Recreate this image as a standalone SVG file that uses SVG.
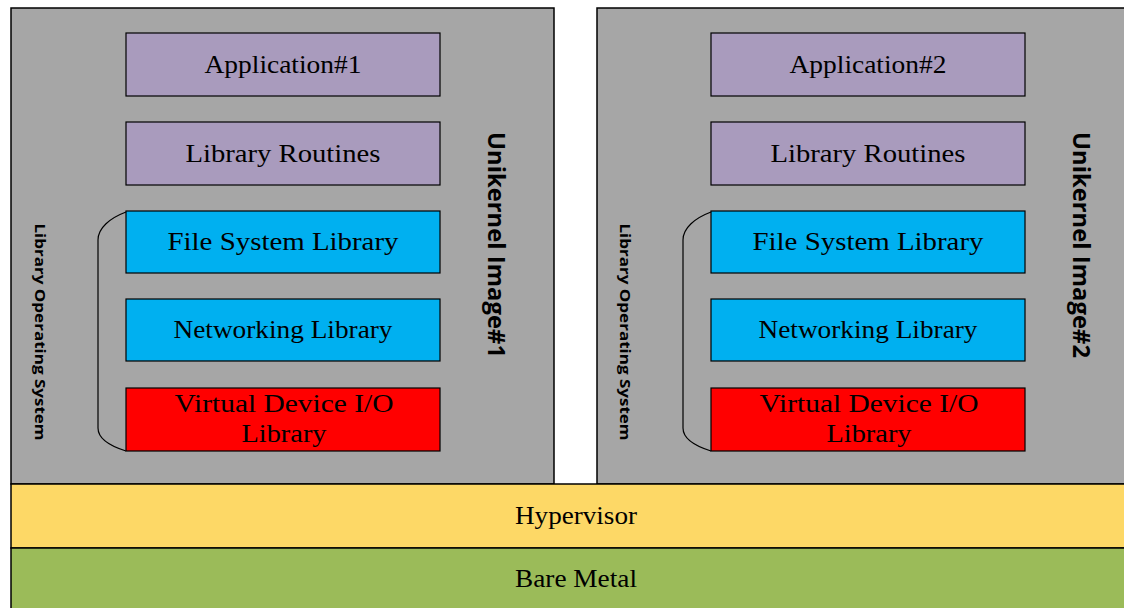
<svg xmlns="http://www.w3.org/2000/svg" width="1124" height="608" viewBox="0 0 1124 608">
  <style>
    .image { fill: #a6a6a6; stroke: #000; stroke-width: 1.5; }
    .app { fill: #a99bbd; stroke: #000; stroke-width: 1.2; }
    .lib { fill: #00b0f0; stroke: #000; stroke-width: 1.2; }
    .dev { fill: #ff0000; stroke: #000; stroke-width: 1.2; }
    .hyp { fill: #fdd866; stroke: #000; stroke-width: 1.5; }
    .metal { fill: #9bbb59; stroke: #000; stroke-width: 1.5; }
    .lbl { font-family: "Liberation Serif", "DejaVu Serif", serif; font-size: 25px; fill: #000; text-anchor: middle; }
    .title { font-family: "Open Sans", "Noto Sans", sans-serif; font-weight: 700; font-size: 24px; fill: #000; text-anchor: middle; }
    .los { font-family: "Open Sans", "Noto Sans", sans-serif; font-weight: 700; font-size: 14px; fill: #000; text-anchor: middle; }
    .brace { fill: none; stroke: #000; stroke-width: 1.2; }
  </style>

  <!-- Unikernel image #1 -->
  <g id="image1">
    <rect class="image" x="11" y="8" width="543" height="476"/>
    <text class="title" transform="translate(488,245) rotate(90)" textLength="226" lengthAdjust="spacingAndGlyphs">Unikernel Image#1</text>
    <text class="los" transform="translate(35,332) rotate(90)" textLength="217" lengthAdjust="spacingAndGlyphs">Library Operating System</text>
  </g>
  <g id="app1">
    <rect class="app" x="126" y="33" width="314" height="63"/>
    <text class="lbl" x="283" y="73" textLength="157" lengthAdjust="spacingAndGlyphs">Application#1</text>
  </g>
  <g id="routines1">
    <rect class="app" x="126" y="122" width="314" height="63"/>
    <text class="lbl" x="283" y="162" textLength="195" lengthAdjust="spacingAndGlyphs">Library Routines</text>
  </g>
  <g id="fs1">
    <rect class="lib" x="126" y="211" width="314" height="62"/>
    <text class="lbl" x="283" y="250" textLength="231" lengthAdjust="spacingAndGlyphs">File System Library</text>
  </g>
  <g id="net1">
    <rect class="lib" x="126" y="299" width="314" height="62"/>
    <text class="lbl" x="283" y="338" textLength="219" lengthAdjust="spacingAndGlyphs">Networking Library</text>
  </g>
  <g id="vdev1">
    <rect class="dev" x="126" y="388" width="314" height="63"/>
    <text class="lbl" x="284" y="412" textLength="219" lengthAdjust="spacingAndGlyphs">Virtual Device I/O</text>
    <text class="lbl" x="284" y="442" textLength="85" lengthAdjust="spacingAndGlyphs">Library</text>
  </g>

  <!-- Unikernel image #2 -->
  <g id="image2">
    <rect class="image" x="597" y="8" width="543" height="476"/>
    <text class="title" transform="translate(1073,245) rotate(90)" textLength="226" lengthAdjust="spacingAndGlyphs">Unikernel Image#2</text>
    <text class="los" transform="translate(620,332) rotate(90)" textLength="217" lengthAdjust="spacingAndGlyphs">Library Operating System</text>
  </g>
  <g id="app2">
    <rect class="app" x="711" y="33" width="314" height="63"/>
    <text class="lbl" x="868" y="73" textLength="157" lengthAdjust="spacingAndGlyphs">Application#2</text>
  </g>
  <g id="routines2">
    <rect class="app" x="711" y="122" width="314" height="63"/>
    <text class="lbl" x="868" y="162" textLength="195" lengthAdjust="spacingAndGlyphs">Library Routines</text>
  </g>
  <g id="fs2">
    <rect class="lib" x="711" y="211" width="314" height="62"/>
    <text class="lbl" x="868" y="250" textLength="231" lengthAdjust="spacingAndGlyphs">File System Library</text>
  </g>
  <g id="net2">
    <rect class="lib" x="711" y="299" width="314" height="62"/>
    <text class="lbl" x="868" y="338" textLength="219" lengthAdjust="spacingAndGlyphs">Networking Library</text>
  </g>
  <g id="vdev2">
    <rect class="dev" x="711" y="388" width="314" height="63"/>
    <text class="lbl" x="869" y="412" textLength="219" lengthAdjust="spacingAndGlyphs">Virtual Device I/O</text>
    <text class="lbl" x="869" y="442" textLength="85" lengthAdjust="spacingAndGlyphs">Library</text>
  </g>

  <!-- Shared layers -->
  <g id="hypervisor">
    <rect class="hyp" x="11" y="484" width="1130" height="64"/>
    <text class="lbl" x="576" y="524" textLength="122" lengthAdjust="spacingAndGlyphs">Hypervisor</text>
  </g>
  <g id="baremetal">
    <rect class="metal" x="11" y="548" width="1130" height="70"/>
    <text class="lbl" x="576" y="587" textLength="122" lengthAdjust="spacingAndGlyphs">Bare Metal</text>
  </g>

  <!-- Braces grouping the library OS layers -->
  <g id="connectors">
    <path class="brace" d="M126,212 C110,218 98,228 98,240 L98,428 C98,438 110,446 126,451"/>
    <path class="brace" d="M711,212 C695,218 683,228 683,240 L683,428 C683,438 695,446 711,451"/>
  </g>
</svg>
